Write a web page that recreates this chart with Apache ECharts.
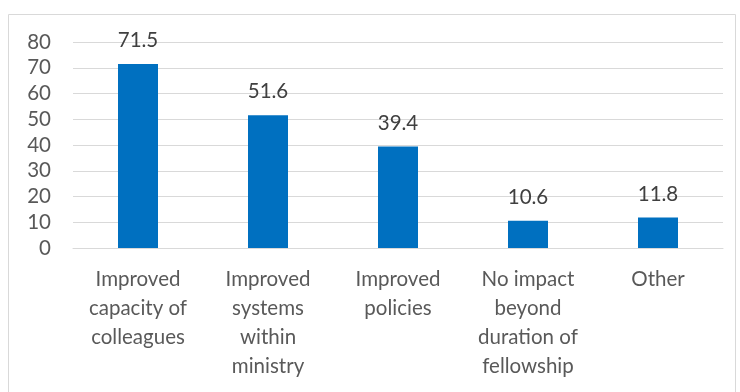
<!DOCTYPE html>
<html><head><meta charset="utf-8">
<script src="https://cdn.jsdelivr.net/npm/echarts@6/dist/echarts.min.js"></script>
<style>html,body{margin:0;padding:0;background:#fff}#c{width:740px;height:392px}</style>
</head><body><div id="c"></div>
<script>
var categories = ["Improved\ncapacity of\ncolleagues", "Improved\nsystems\nwithin\nministry", "Improved\npolicies", "No impact\nbeyond\nduration of\nfellowship", "Other"];
var values = [71.5, 51.6, 39.4, 10.6, 11.8];
var font = "Lato, 'Open Sans', sans-serif";
var chart = echarts.init(document.getElementById('c'), null, {renderer: 'canvas'});
chart.setOption({
  animation: false,
  graphic: [{type: 'rect', shape: {x: 8.5, y: 14.5, width: 727, height: 390}, style: {fill: 'none', stroke: '#d9d9d9', lineWidth: 1}}],
  grid: {left: 73, right: 17, top: 42, bottom: 144, containLabel: false},
  xAxis: {
    type: 'category', data: categories,
    axisLine: {show: true, lineStyle: {color: '#d9d9d9'}}, axisTick: {show: false},
    axisLabel: {color: '#595959', fontSize: 20.5, fontFamily: font, lineHeight: 29, margin: 17, interval: 0}
  },
  yAxis: {
    type: 'value', min: 0, max: 80, interval: 10,
    axisLine: {show: false}, axisTick: {show: false},
    splitLine: {lineStyle: {color: '#d9d9d9', width: 1}},
    axisLabel: {color: '#595959', fontSize: 20.5, fontFamily: font, margin: 22}
  },
  series: [{
    type: 'bar', data: values, barWidth: 40,
    itemStyle: {color: '#0070C0'},
    label: {show: true, position: 'top', distance: 13, color: '#404040', fontSize: 20.5, fontFamily: font}
  }]
});
</script></body></html>
